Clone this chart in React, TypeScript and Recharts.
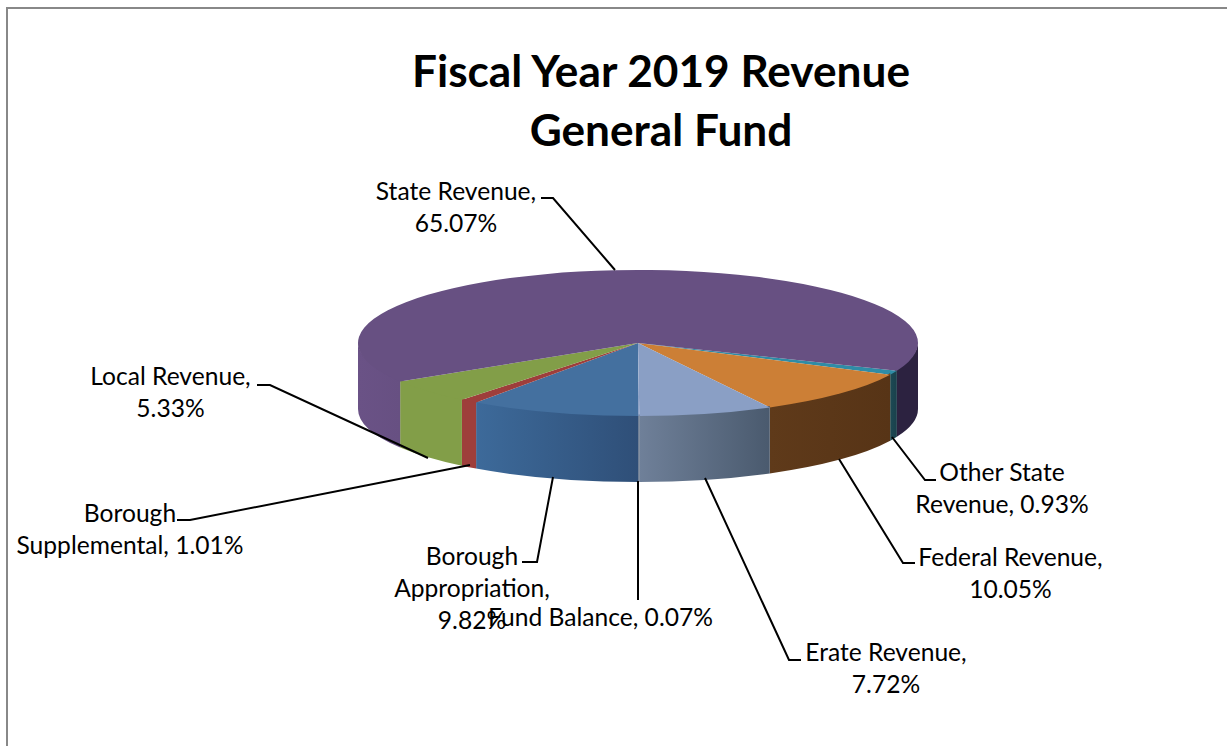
import React from "react";
import { PieChart, Pie } from "recharts";

const categories = ["Other State Revenue", "Federal Revenue", "Erate Revenue", "Fund Balance", "Borough Appropriation", "Borough Supplemental", "Local Revenue", "State Revenue"];
const shares = [0.93, 10.05, 7.72, 0.07, 9.82, 1.01, 5.33, 65.07];
const titleLines = ["Fiscal Year 2019 Revenue", "General Fund"];

const topColors = ["#2F8CA6", "#CC7F36", "#8A9FC5", "#8A9FC5", "#44709F", "#9E3E3B", "#829E48", "#675082"];
const wallLight = ["#1C4A55", "#5F3A1A", "#6F8099", "#6F8099", "#3D6A9A", "#9E3E3B", "#829E48", "#6A5286"];
const wallDark = ["#1A404B", "#573416", "#4A5A6E", "#4A5A6E", "#2F4F78", "#9E3E3B", "#829E48", "#675082"];

const FONT = "Lato, Carlito, sans-serif";
const CX = 638, CY = 343, RX = 280, RY = 73, DEPTH = 66;
const WIDTH = 1227, HEIGHT = 746;

type Layout = { lines: string[]; x: number; y: number; leader: [number, number][] };
const labelLayout: Layout[] = [
  { lines: ["Other State", "Revenue, 0.93%"], x: 1002, y: 481, leader: [[892, 437], [925, 480], [936, 480]] },
  { lines: ["Federal Revenue,", "10.05%"], x: 1010.5, y: 566, leader: [[839, 459], [903, 563], [915, 563]] },
  { lines: ["Erate Revenue,", "7.72%"], x: 886, y: 661, leader: [[705, 478], [789, 660], [801, 660]] },
  { lines: ["Fund Balance, 0.07%"], x: 600.5, y: 626, leader: [[638, 481], [638, 600]] },
  { lines: ["Borough", "Appropriation,", "9.82%"], x: 472, y: 565, leader: [[553, 477], [537, 562], [522, 562]] },
  { lines: ["Borough", "Supplemental, 1.01%"], x: 130, y: 522, leader: [[470, 465], [190, 520], [177, 520]] },
  { lines: ["Local Revenue,", "5.33%"], x: 170.5, y: 385, leader: [[428, 458], [270, 385], [257, 385]] },
  { lines: ["State Revenue,", "65.07%"], x: 456, y: 200, leader: [[615, 270], [553, 198], [541, 198]] },
];

const pt = (deg: number, dy = 0): [number, number] => {
  const a = (deg * Math.PI) / 180;
  return [CX + RX * Math.cos(a), CY - RY * Math.sin(a) + dy];
};

function Slice3D(props: any) {
  const { startAngle, endAngle, index } = props;
  const hi = Math.max(startAngle, endAngle);
  const lo = Math.min(startAngle, endAngle);
  const [sx, sy] = pt(hi);
  const [ex, ey] = pt(lo);
  const large = hi - lo > 180 ? 1 : 0;
  const walls: [number, number][] = [];
  for (const [a, b] of [[0, -180], [-360, -540]]) {
    const w1 = Math.min(hi, a);
    const w2 = Math.max(lo, b);
    if (w1 > w2) walls.push([w1, w2]);
  }
  return (
    <g>
      {walls.map(([w1, w2], i) => {
        const [ax, ay] = pt(w1);
        const [bx, by] = pt(w2);
        const lift = 1.5;
        const d = `M${ax},${ay - lift} A${RX},${RY} 0 0 1 ${bx},${by - lift} L${bx},${by + DEPTH} A${RX},${RY} 0 0 0 ${ax},${ay + DEPTH} Z`;
        const isRightOfState = index === 7 && w1 <= -360;
        return <path key={i} d={d} fill={isRightOfState ? "#2C2240" : `url(#wall${index})`} />;
      })}
      <path d={`M${CX},${CY} L${sx},${sy} A${RX},${RY} 0 ${large} 1 ${ex},${ey} Z`} fill={topColors[index]} />
    </g>
  );
}

function SliceLabel(props: any) {
  const l = labelLayout[props.index];
  if (!l) return null;
  return (
    <g>
      <polyline points={l.leader.map((p) => p.join(",")).join(" ")} fill="none" stroke="#000" strokeWidth={2} />
      {l.lines.map((t, i) => (
        <text key={t} x={l.x} y={l.y + i * 32} textAnchor="middle" fontFamily={FONT} fontSize={24.6} fill="#000">
          {t}
        </text>
      ))}
    </g>
  );
}

const data = categories.map((name, i) => ({ name, value: shares[i] }));

export default function App() {
  return (
    <div style={{ position: "absolute", left: 0, top: 0, width: WIDTH, height: HEIGHT, background: "#fff", overflow: "hidden" }}>
      <div style={{ position: "absolute", left: 6, top: 7, width: WIDTH, height: HEIGHT, borderLeft: "2px solid #888", borderTop: "2px solid #888", boxSizing: "border-box" }} />
      <div style={{ position: "absolute", left: 0, top: 0 }}>
        <PieChart width={WIDTH} height={HEIGHT} margin={{ top: 0, right: 0, bottom: 0, left: 0 }}>
          <defs>
            {categories.map((_, i) => (
              <linearGradient key={i} id={`wall${i}`} x1="0" y1="0" x2="1" y2="0">
                <stop offset="0" stopColor={wallLight[i]} />
                <stop offset="1" stopColor={wallDark[i]} />
              </linearGradient>
            ))}
          </defs>
          {titleLines.map((t, i) => (
            <text key={t} x={661} y={87 + i * 59} textAnchor="middle" fontFamily={FONT} fontWeight={700} fontSize={44.2} fill="#000">
              {t}
            </text>
          ))}
          <Pie
            data={data}
            dataKey="value"
            nameKey="name"
            cx={CX}
            cy={CY}
            outerRadius={RX}
            startAngle={-22.4}
            endAngle={-382.4}
            paddingAngle={0}
            stroke="none"
            isAnimationActive={false}
            shape={Slice3D}
            label={SliceLabel}
            labelLine={false}
          />
        </PieChart>
      </div>
    </div>
  );
}
